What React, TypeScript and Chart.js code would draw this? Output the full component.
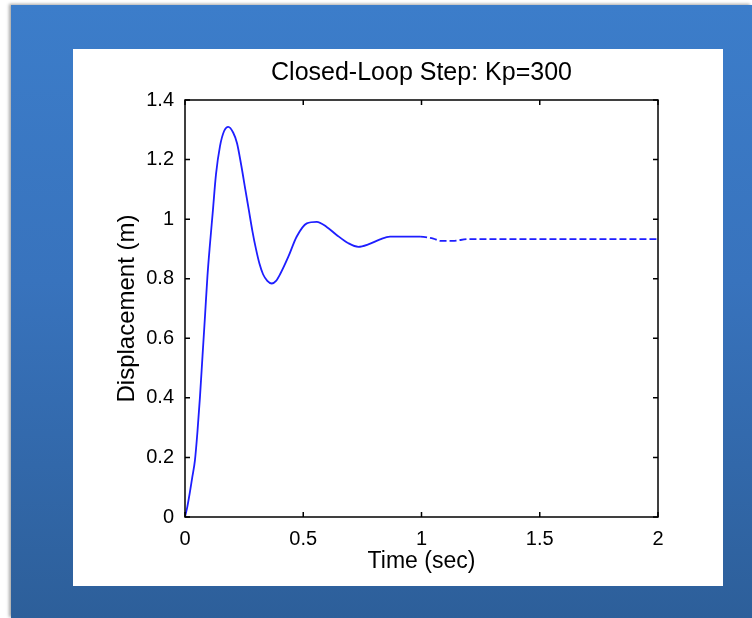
import React, { useEffect, useRef } from "react";
import { Chart, registerables } from "chart.js";

Chart.register(...registerables);

const TITLE = "Closed-Loop Step: Kp=300";
const X_LABEL = "Time (sec)";
const Y_LABEL = "Displacement (m)";

const timeSec = [
  0, 0.01, 0.02, 0.03, 0.042, 0.053, 0.063, 0.074, 0.085, 0.095, 0.106, 0.117,
  0.131, 0.148, 0.165, 0.183, 0.204, 0.22, 0.238, 0.255, 0.27, 0.285, 0.3, 0.315,
  0.33, 0.348, 0.367, 0.385, 0.402, 0.437, 0.472, 0.515, 0.557, 0.599, 0.641,
  0.691, 0.733, 0.775, 0.825, 0.867, 0.92, 0.994, 1.05, 1.08, 1.13, 1.2, 1.4,
  1.6, 1.8, 2.0,
];
const displacement = [
  0, 0.035, 0.08, 0.13, 0.19, 0.29, 0.4, 0.54, 0.68, 0.81, 0.92, 1.02, 1.15,
  1.245, 1.295, 1.31, 1.29, 1.255, 1.18, 1.1, 1.03, 0.96, 0.9, 0.85, 0.815,
  0.793, 0.784, 0.793, 0.815, 0.874, 0.941, 0.986, 0.991, 0.974, 0.947, 0.919,
  0.907, 0.915, 0.932, 0.941, 0.941, 0.941, 0.935, 0.927, 0.927, 0.933, 0.933,
  0.933, 0.933, 0.933,
];
const xTicks = [0, 0.5, 1, 1.5, 2];
const xTickLabels = ["0", "0.5", "1", "1.5", "2"];
const yTicks = [0, 0.2, 0.4, 0.6, 0.8, 1, 1.2, 1.4];
const yTickLabels = ["0", "0.2", "0.4", "0.6", "0.8", "1", "1.2", "1.4"];
const DASH_FROM = 0.994;

const FONT = "'Liberation Sans', Arial, Helvetica, sans-serif";

const boxAndTicks = {
  id: "boxAndTicks",
  afterDraw(chart: any) {
    const { ctx, chartArea: a, scales } = chart;
    const xs = scales.x;
    const ys = scales.y;
    const tl = 5;
    ctx.save();
    ctx.strokeStyle = "#000";
    ctx.lineWidth = 1.5;
    ctx.strokeRect(a.left, a.top, a.right - a.left, a.bottom - a.top);
    ctx.beginPath();
    xTicks.forEach((v) => {
      const px = xs.getPixelForValue(v);
      ctx.moveTo(px, a.bottom);
      ctx.lineTo(px, a.bottom - tl);
      ctx.moveTo(px, a.top);
      ctx.lineTo(px, a.top + tl);
    });
    yTicks.forEach((v) => {
      const py = ys.getPixelForValue(v);
      ctx.moveTo(a.left, py);
      ctx.lineTo(a.left + tl, py);
      ctx.moveTo(a.right, py);
      ctx.lineTo(a.right - tl, py);
    });
    ctx.stroke();
    // title centred over the plot area
    ctx.fillStyle = "#000";
    ctx.font = `25px ${FONT}`;
    ctx.textAlign = "center";
    ctx.textBaseline = "middle";
    ctx.fillText(TITLE, (a.left + a.right) / 2, 24);
    ctx.restore();
  },
};

export default function App() {
  const ref = useRef<HTMLCanvasElement | null>(null);

  useEffect(() => {
    if (!ref.current) return;
    const points = timeSec.map((t, i) => ({ x: t, y: displacement[i] }));
    const chart = new Chart(ref.current, {
      type: "line",
      data: {
        datasets: [
          {
            data: points,
            borderColor: "rgb(30,30,255)",
            borderWidth: 1.8,
            pointRadius: 0,
            fill: false,
            cubicInterpolationMode: "monotone",
            segment: {
              borderDash: (c: any) => (c.p0.parsed.x >= DASH_FROM ? [7, 3] : undefined),
            },
          } as any,
        ],
      },
      options: {
        responsive: false,
        animation: false,
        layout: { padding: { left: 0, top: 51, right: 65, bottom: 0 } },
        plugins: {
          legend: { display: false },
          tooltip: { enabled: false },
          title: { display: false },
        },
        scales: {
          x: {
            type: "linear",
            min: 0,
            max: 2,
            afterBuildTicks: (s: any) => {
              s.ticks = xTicks.map((v) => ({ value: v }));
            },
            afterFit: (s: any) => {
              s.height = 69;
            },
            grid: { display: false, drawTicks: false },
            border: { display: false },
            ticks: {
              color: "#000",
              font: { family: FONT, size: 20 },
              padding: 10,
              maxRotation: 0,
              callback: (v: any) => {
                const i = xTicks.indexOf(Number(v));
                return i >= 0 ? xTickLabels[i] : "";
              },
            },
            title: {
              display: true,
              text: X_LABEL,
              color: "#000",
              font: { family: FONT, size: 23, lineHeight: 1.2 },
              padding: { top: 0, bottom: 11 },
            },
          },
          y: {
            type: "linear",
            min: 0,
            max: 1.4,
            afterBuildTicks: (s: any) => {
              s.ticks = yTicks.map((v) => ({ value: v }));
            },
            afterFit: (s: any) => {
              s.width = 112;
            },
            grid: { display: false, drawTicks: false },
            border: { display: false },
            ticks: {
              color: "#000",
              font: { family: FONT, size: 20 },
              padding: 11,
              callback: (v: any) => {
                const i = yTicks.findIndex((t) => Math.abs(t - Number(v)) < 1e-6);
                return i >= 0 ? yTickLabels[i] : "";
              },
            },
            title: {
              display: true,
              text: Y_LABEL,
              color: "#000",
              font: { family: FONT, size: 24, lineHeight: 1.2 },
              padding: { top: 40, bottom: 0 },
            },
          },
        },
      },
      plugins: [boxAndTicks],
    });
    return () => chart.destroy();
  }, []);

  return (
    <div
      style={{
        position: "fixed",
        left: 0,
        top: 0,
        width: 752,
        height: 618,
        background: "#ffffff",
        overflow: "hidden",
      }}
    >
      <div
        style={{
          position: "absolute",
          left: 11,
          top: 5,
          width: 741,
          height: 613,
          background: "linear-gradient(to bottom, #3c7dca 0%, #3873bd 45%, #2d5f9a 100%)",
          boxShadow: "-2px -1px 3px rgba(0,0,0,0.35)",
        }}
      />
      <div
        style={{
          position: "absolute",
          left: 73,
          top: 49,
          width: 650,
          height: 537,
          background: "#ffffff",
        }}
      >
        <canvas ref={ref} width={650} height={537} style={{ display: "block" }} />
      </div>
    </div>
  );
}
